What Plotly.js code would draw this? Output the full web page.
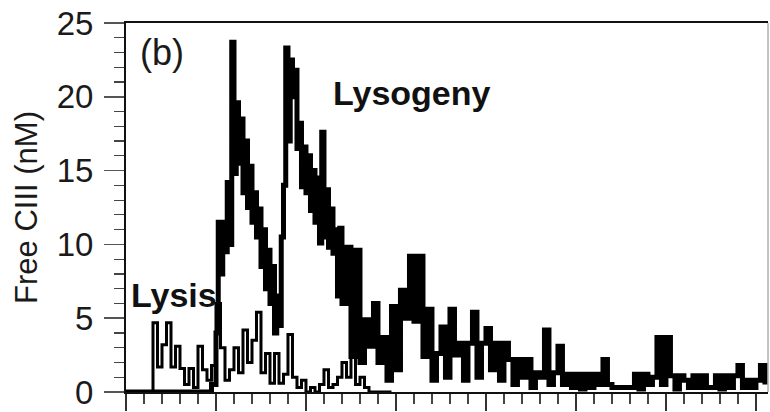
<!DOCTYPE html>
<html>
<head>
<meta charset="utf-8">
<script src="https://cdn.plot.ly/plotly-3.0.1.min.js"></script>
<style>html,body{margin:0;padding:0;background:#fff;}#chart{width:770px;height:412px;}</style>
</head>
<body>
<div id="chart"></div>
<script>
// x in minor-tick units of the (unlabelled) time axis

// Lysogeny (thick trace) free CIII, nM
const lysogenyX = [
  0, 4.75,
  5.0,5.125,5.25,5.375,5.5,5.625,5.75,5.875,
  6.0,6.125,6.25,6.375,6.5,6.625,6.75,6.875,
  7.0,7.125,7.25,7.375,7.5,7.625,7.75,7.875,
  8.0,8.125,8.25,8.375,8.5,8.625,8.75,8.875,
  9.0,9.125,9.25,9.375,9.5,9.625,9.75,9.875,
  10.0,10.125,10.25,10.375,10.5,10.625,10.75,10.875,
  11.0,11.125,11.25,11.375,11.5,11.625,11.75,11.875,
  12.0,
  12.25,12.5,12.75,13,13.25,13.5,13.75,14,14.25,14.5,
  14.75,15,15.25,15.5,15.75,16,16.25,16.5,16.75,17,
  17.25,17.5,17.75,18,18.25,18.5,18.75,19,19.25,19.5,
  19.75,20,20.25,20.5,20.75,21,21.25,21.5,21.75,22,
  22.25,22.5,22.75,23,23.25,23.5,23.75,24,24.25,24.5,
  24.75,25,25.25,25.5,25.75,26,26.25,26.5,26.75,27,
  27.25,27.5,27.75,28,28.25,28.5,28.75,29,29.25,29.5,
  29.75,30,30.25,30.5,30.75,31,31.25,31.5,31.75,32,
  32.25,32.5,32.75,33,33.25,33.5,33.75,34,34.25,34.5,
  34.75,35,35.25,35.5
];
const lysogenyY = [
  0, 0.5,
  4,11.5,8,11.5,9.5,14.2,10,23.7,
  14.8,19.6,15.5,18.5,13.5,17,12.5,15.3,
  11.5,13.5,10.5,12.4,8.5,11,7,9.6,
  6,8.5,4.0,6.5,4.5,10.5,14,23.3,
  17,22.5,20,21.8,16.5,18.2,13.9,16.6,
  13.5,16,12.3,15,11.5,14.5,10.1,17.6,
  10.5,13.7,9.8,12.4,9.4,11,6.5,11.1,
  6,
  9.8,2.4,9.6,2.0,4.9,3.1,6.0,2.0,3.7,0.8,
  5.8,1.5,6.9,5.0,9.2,4.8,9.2,2.4,5.6,0.8,
  2.6,4.4,1.0,5.6,2.5,3.3,0.8,3.3,5.4,1.0,
  3.3,4.3,1.5,3.3,0.8,3.3,2.2,0.5,2.2,1.0,
  2.2,0.3,1.3,1.0,4.2,0.5,1.3,3.1,0.5,1.2,
  0.3,1.2,0.2,1.2,0.3,1.2,0.5,2.2,0.5,0.3,
  0.3,0.3,0.3,0.3,1.2,0.2,1.2,0.5,1.0,3.7,
  0.5,3.7,1.1,0.2,1.1,0.8,0.3,1.1,0.3,1.1,
  0.3,0.3,1.1,0.2,1.1,0.3,1.1,1.8,0.3,0.8,
  0.3,0.8,1.8,0.5
];

// Lysis (thin trace) free CIII, nM, sampled every 0.25 units from 0
const lysisStart = 0;
const lysisStep = 0.25;
const lysisY = [
  0,0,0,0,0,0,4.7,1.7,3.2,4.7,
  1.7,3.1,1.6,0.5,1.6,0.3,3.1,1.5,0.8,1.8,
  6.0,3.0,0.8,1.5,3.0,1.3,4.2,2.0,3.5,5.4,
  1.3,2.6,0.6,2.6,0.6,1.2,3.9,1.0,0.3,0.8,
  0,0.3,0,0.5,1.5,0.3,0.5,1.0,2.0,1.0,
  2.5,0.5,1.0,0.3,0,0,0,0,0,0
];

// Axis ticks
const yTickValues = [0,5,10,15,20,25];
const yTickLabels = ["0","5","10","15","20","25"];
const xMajorTicks = [0,5,10,15,20,25,30,35];

const font = "Liberation Sans, Arial, sans-serif";

const traces = [
  {
    type: "scatter", mode: "lines", name: "Lysis",
    x0: lysisStart, dx: lysisStep, y: lysisY,
    line: {color: "#000", width: 3, shape: "hv"},
    hoverinfo: "skip"
  },
  {
    type: "scatter", mode: "lines", name: "Lysogeny",
    x: lysogenyX, y: lysogenyY,
    line: {color: "#000", width: 5, shape: "hv"},
    hoverinfo: "skip"
  }
];

const layout = {
  width: 770, height: 412,
  margin: {l: 126, r: 2, t: 23, b: 20},
  paper_bgcolor: "#fff", plot_bgcolor: "#fff",
  showlegend: false,
  font: {family: font, color: "#1a1a1a"},
  xaxis: {
    range: [0, 35.67],
    showgrid: false, zeroline: false,
    showline: true, linecolor: "#111", linewidth: 2, mirror: true,
    ticks: "outside", tickvals: xMajorTicks, ticklen: 17, tickwidth: 1.5, tickcolor: "#333",
    showticklabels: false,
    minor: {dtick: 1, ticks: "outside", ticklen: 10, tickwidth: 1.2, tickcolor: "#444", showgrid: false}
  },
  yaxis: {
    range: [0, 25],
    showgrid: false, zeroline: false,
    showline: true, linecolor: "#111", linewidth: 2,
    ticks: "outside", tickvals: yTickValues, ticktext: yTickLabels,
    ticklen: 20, tickwidth: 1.5, tickcolor: "#555",
    ticklabelstandoff: 4,
    tickfont: {family: font, size: 33, color: "#1a1a1a"},
    minor: {dtick: 1, ticks: "outside", ticklen: 10, tickwidth: 1.2, tickcolor: "#444", showgrid: false},
    title: {text: "Free CIII (nM)", font: {family: font, size: 31, color: "#1a1a1a"}, standoff: 10}
  },
  shapes: [
    {type: "line", xref: "paper", yref: "paper", x0: 1, x1: 1, y0: 0, y1: 1,
     line: {color: "#888", width: 1}}
  ],
  annotations: [
    {text: "(b)", xref: "paper", yref: "paper", x: 0.056, y: 0.92,
     xanchor: "center", yanchor: "middle", showarrow: false,
     font: {family: font, size: 36, color: "#1a1a1a"}},
    {text: "<b>Lysogeny</b>", xref: "paper", yref: "paper", x: 0.32, y: 0.81,
     xanchor: "left", yanchor: "middle", showarrow: false,
     font: {family: font, size: 34, color: "#111"}},
    {text: "<b>Lysis</b>", xref: "paper", yref: "paper", x: 0.004, y: 0.262,
     xanchor: "left", yanchor: "middle", showarrow: false,
     font: {family: font, size: 34, color: "#111"}}
  ]
};

Plotly.newPlot("chart", traces, layout, {displayModeBar: false, staticPlot: true});
</script>
</body>
</html>
